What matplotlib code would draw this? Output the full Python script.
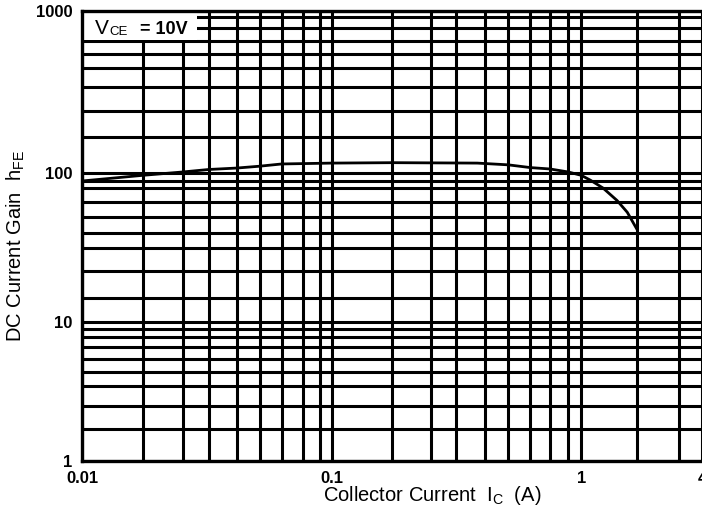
import numpy as np
import matplotlib
matplotlib.use("Agg")
import matplotlib.pyplot as plt
from matplotlib.patches import Rectangle

plt.rcParams['font.family'] = ['Liberation Sans', 'DejaVu Sans']
plt.rcParams['mathtext.fontset'] = 'custom'
plt.rcParams['mathtext.rm'] = 'Liberation Sans'

# hFE vs Ic curve
ic = [0.01, 0.02, 0.03, 0.04, 0.05, 0.06, 0.07, 0.1, 0.2, 0.47,
      0.6, 0.7, 0.8, 0.9, 1.0, 1.12, 1.31, 1.56, 1.77, 2.0]
hfe = [90, 97, 102, 107, 110, 114, 119, 121, 122, 121,
       117, 111, 108, 102, 97, 91, 80, 71, 63, 52]

x_ticks = [0.01, 0.1, 1, 4]
y_ticks = [1, 10, 100, 1000]

# the scanned datasheet grid is not a true log grid, so the scale follows
# where its grid lines actually sit (grid value -> scan position)
x_grid = [0.01, 0.02, 0.03, 0.04, 0.05, 0.06, 0.07, 0.08, 0.09,
          0.1, 0.2, 0.3, 0.4, 0.5, 0.6, 0.7, 0.8, 0.9, 1, 2, 3, 4]
x_pos = [81, 142, 182, 208, 236, 259, 281, 302, 319,
         331, 392, 431, 456, 485, 508, 530, 550, 568, 581, 637, 679, 702]
y_grid = [1, 2, 3, 4, 5, 6, 7, 8, 9, 10, 20, 30, 40, 50, 60, 70, 80, 90,
          100, 200, 300, 400, 500, 600, 700, 800, 900, 1000]
y_pos = [461, 429, 406, 386, 372, 359, 347, 337, 329, 322, 298, 271, 248,
         233, 217, 202, 188, 181, 173, 137, 111, 87, 68, 54, 41, 28, 17, 11]


def make_scale(vals, pos):
    lv = np.log10(vals)
    p = np.asarray(pos, dtype=float)
    # pad both ends so values outside the grid still map somewhere sensible
    lv = np.concatenate([[lv[0] - 3], lv, [lv[-1] + 3]])
    p = np.concatenate([[p[0] - 3 * (p[9] - p[0])], p,
                        [p[-1] + 3 * (p[-1] - p[-4]) / (lv[-2] - lv[-5])]])

    def fwd(v):
        v = np.clip(np.asarray(v, dtype=float), 1e-12, None)
        return np.interp(np.log10(v), lv, p)

    def inv(q):
        return 10 ** np.interp(q, p, lv)
    return fwd, inv


fx, ix = make_scale(x_grid, x_pos)
fy, iy = make_scale(y_grid, [-v for v in y_pos])

fig = plt.figure(figsize=(7.02, 5.2), dpi=100)
ax = fig.add_axes([82 / 702, 1 - 461 / 520, 620 / 702, 450 / 520])
ax.set_xscale('function', functions=(fx, ix))
ax.set_yscale('function', functions=(fy, iy))
ax.set_xlim(0.01, 4)
ax.set_ylim(1, 1000)

ax.plot(ic, hfe, color='black', lw=2.0, zorder=3)

ax.set_xticks(x_grid)
ax.set_xticklabels([str(v) if v in x_ticks else '' for v in x_grid])
ax.set_yticks(y_grid)
ax.set_yticklabels([str(v) if v in y_ticks else '' for v in y_grid])
ax.tick_params(length=0, labelsize=12)
ax.tick_params(axis='y', pad=7)
ax.tick_params(axis='x', pad=7)
for lab in ax.get_xticklabels() + ax.get_yticklabels():
    lab.set_fontweight('bold')

ax.grid(True, color='black', lw=2.2)
for s in ax.spines.values():
    s.set_linewidth(2.4)
    s.set_color('black')
ax.spines['right'].set_visible(False)

# label box in the top left corner hides the grid behind it
ax.add_patch(Rectangle((0, 0.9356), 0.185, 0.0644, transform=ax.transAxes,
                       facecolor='white', edgecolor='none', zorder=2.2))
t1 = ax.text(0.021, 0.949, 'V', transform=ax.transAxes, fontsize=15,
             va='baseline', zorder=4)
t2 = ax.annotate('CE', xy=(1, 0), xycoords=t1, fontsize=9.5, va='bottom',
                 zorder=4)
ax.annotate('= 10V', xy=(1, 0), xycoords=t2, xytext=(9, 0),
            textcoords='offset points', fontsize=13, fontweight='bold',
            va='bottom', zorder=4)

ax.set_xlabel(r'Collector Current  I$_{\mathregular{C}}$  (A)', fontsize=14.5)
ax.set_ylabel(r'DC Current Gain  h$_{\mathregular{FE}}$', fontsize=14.5)
ax.xaxis.set_label_coords(0.565, -0.052)
ax.yaxis.set_label_coords(-0.089, 0.478)

fig.savefig('out.png', dpi=100)
